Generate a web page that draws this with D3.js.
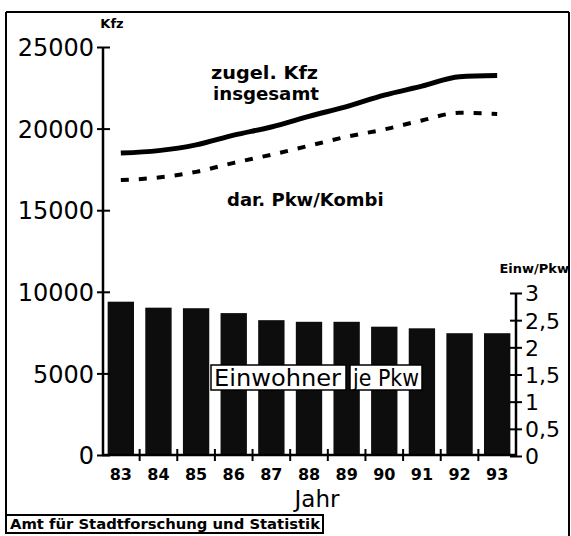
<!DOCTYPE html>
<html>
<head>
<meta charset="utf-8">
<script src="https://cdn.jsdelivr.net/npm/d3@7"></script>
<style>
  html, body { margin: 0; padding: 0; background: #fff; }
  svg { display: block; }
  text { font-family: "DejaVu Sans", sans-serif; fill: #000; }
</style>
</head>
<body>
<svg id="chart" width="571" height="536"></svg>
<script>
// ---- data ----
const years = ["83", "84", "85", "86", "87", "88", "89", "90", "91", "92", "93"];
const kfzTotal = [18500, 18650, 19000, 19600, 20100, 20750, 21350, 22050, 22600, 23180, 23250];
const pkwKombi = [16850, 17000, 17350, 17900, 18400, 18950, 19500, 19950, 20500, 20970, 20900];
const einwJePkw = [2.84, 2.73, 2.72, 2.63, 2.50, 2.47, 2.47, 2.38, 2.35, 2.26, 2.26];
const leftTicks = [0, 5000, 10000, 15000, 20000, 25000];
const rightTicks = [0, 0.5, 1, 1.5, 2, 2.5, 3];

const svg = d3.select("#chart");

// frame
const frame = svg.append("g").attr("stroke", "#000").attr("stroke-width", 2).attr("fill", "none");
frame.append("line").attr("x1", 6).attr("y1", 12).attr("x2", 569).attr("y2", 12);
frame.append("line").attr("x1", 6).attr("y1", 12).attr("x2", 6).attr("y2", 533);
frame.append("line").attr("x1", 569).attr("y1", 12).attr("x2", 569).attr("y2", 536);

// scales
const x = d3.scaleBand().domain(years).range([102, 516]).paddingInner(0.3).paddingOuter(0.15);
const yL = d3.scaleLinear().domain([0, 25000]).range([455, 47]);
const yR = d3.scaleLinear().domain([0, 3]).range([456, 293]);

// bars
svg.append("g").selectAll("rect").data(years).join("rect")
  .attr("x", d => x(d))
  .attr("width", x.bandwidth())
  .attr("y", (d, i) => yR(einwJePkw[i]))
  .attr("height", (d, i) => yR(0) - yR(einwJePkw[i]))
  .attr("fill", "#0d0d0d");

// left axis
const axL = svg.append("g").attr("transform", "translate(103,0)")
  .call(d3.axisLeft(yL).tickValues(leftTicks).tickFormat(d3.format("d")).tickSize(6).tickPadding(3));
axL.select(".domain").attr("stroke-width", 2.5).attr("d", `M0,${yL(25000)}V${yL(0)}`);
axL.selectAll(".tick line").attr("stroke-width", 2).attr("x1", 7).attr("x2", -6);
axL.selectAll(".tick text").attr("font-size", 24).attr("font-family", "DejaVu Sans").attr("dy", "0.36em");

// right axis
const axR = svg.append("g").attr("transform", "translate(516,0)")
  .call(d3.axisRight(yR).tickValues(rightTicks).tickFormat(d => String(d).replace(".", ",")).tickSize(6).tickPadding(3));
axR.select(".domain").attr("stroke-width", 2.5).attr("d", `M0,${yR(3)}V${yR(0)}`);
axR.selectAll(".tick line").attr("stroke-width", 2).attr("x1", -6).attr("x2", 6);
axR.selectAll(".tick text").attr("font-size", 22).attr("font-family", "DejaVu Sans").attr("dy", "0.36em");

// bottom axis
const axB = svg.append("g").attr("transform", "translate(0,455)")
  .call(d3.axisBottom(x).tickSize(0).tickPadding(14));
axB.select(".domain").attr("stroke-width", 2.5).attr("d", "M102,0H516");
axB.selectAll(".tick text").attr("font-size", 16).attr("font-weight", "bold").attr("font-family", "DejaVu Sans");
const gap = x.step() * x.paddingInner() / 2;
svg.append("g").selectAll("line").data(years.slice(1)).join("line")
  .attr("x1", d => x(d) - gap).attr("x2", d => x(d) - gap)
  .attr("y1", 449).attr("y2", 461)
  .attr("stroke", "#000").attr("stroke-width", 2);

// lines
const lineL = d3.line().x((d, i) => x(years[i]) + x.bandwidth() / 2).y(d => yL(d)).curve(d3.curveMonotoneX);
svg.append("path").datum(kfzTotal).attr("d", lineL)
  .attr("fill", "none").attr("stroke", "#000").attr("stroke-width", 5);
svg.append("path").datum(pkwKombi).attr("d", lineL)
  .attr("fill", "none").attr("stroke", "#000").attr("stroke-width", 4)
  .attr("stroke-dasharray", "8,10");

// texts
svg.append("text").attr("x", 112).attr("y", 28).attr("text-anchor", "middle")
  .attr("font-size", 13).attr("font-weight", "bold").text("Kfz");
svg.append("text").attr("x", 211).attr("y", 79)
  .attr("font-size", 18).attr("font-weight", "bold")
  .attr("textLength", 107).attr("lengthAdjust", "spacingAndGlyphs").text("zugel. Kfz");
svg.append("text").attr("x", 213).attr("y", 100)
  .attr("font-size", 18).attr("font-weight", "bold")
  .attr("textLength", 106).attr("lengthAdjust", "spacingAndGlyphs").text("insgesamt");
svg.append("text").attr("x", 227).attr("y", 206)
  .attr("font-size", 18).attr("font-weight", "bold").text("dar. Pkw/Kombi");
svg.append("text").attr("x", 569).attr("y", 273).attr("text-anchor", "end")
  .attr("font-size", 13).attr("font-weight", "bold").text("Einw/Pkw");

// bar label boxes
svg.append("rect").attr("x", 211).attr("y", 365).attr("width", 135).attr("height", 25)
  .attr("fill", "#fff").attr("stroke", "#000").attr("stroke-width", 1.5);
svg.append("rect").attr("x", 350).attr("y", 365).attr("width", 72).attr("height", 25)
  .attr("fill", "#fff").attr("stroke", "#000").attr("stroke-width", 1.5);
svg.append("text").attr("x", 214).attr("y", 386).attr("font-size", 23)
  .attr("textLength", 127).attr("lengthAdjust", "spacingAndGlyphs").text("Einwohner");
svg.append("text").attr("x", 353).attr("y", 386).attr("font-size", 23)
  .attr("textLength", 66).attr("lengthAdjust", "spacingAndGlyphs").text("je Pkw");

svg.append("text").attr("x", 317).attr("y", 507).attr("text-anchor", "middle")
  .attr("font-size", 23).text("Jahr");

// footer
svg.append("rect").attr("x", 6).attr("y", 515).attr("width", 317).attr("height", 18)
  .attr("fill", "#fff").attr("stroke", "#000").attr("stroke-width", 2);
svg.append("text").attr("x", 10).attr("y", 529).attr("font-size", 14).attr("font-weight", "bold")
  .attr("textLength", 310).attr("lengthAdjust", "spacingAndGlyphs")
  .text("Amt für Stadtforschung und Statistik");
</script>
</body>
</html>
